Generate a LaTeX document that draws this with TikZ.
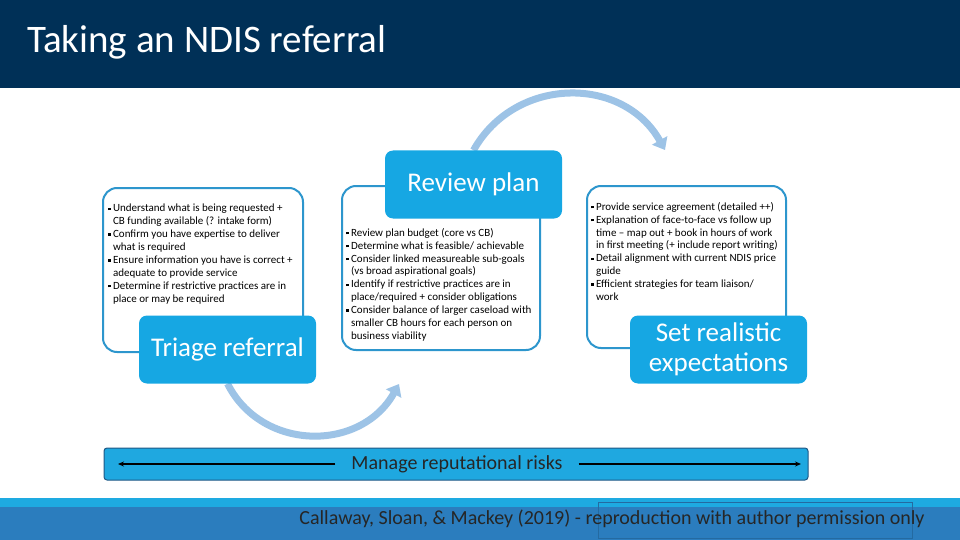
\documentclass[tikz,border=0pt]{standalone}
\usepackage{fontspec}
\setmainfont{Carlito}
\usetikzlibrary{arrows.meta,calc,backgrounds}
\definecolor{ndisnavy}{RGB}{0,48,87}
\definecolor{ndisblue}{RGB}{22,167,227}
\definecolor{ndisline}{RGB}{45,150,205}
\definecolor{ndisarc}{RGB}{157,195,230}
\definecolor{ndisfoot}{RGB}{43,125,190}
\definecolor{ndisstrip}{RGB}{30,170,225}
\definecolor{ndisrisk}{RGB}{31,168,224}
\newcommand{\bul}{\raisebox{0.35ex}{\rule{2.4pt}{2.4pt}}\hspace{2.5pt}}
\newcommand{\cnt}{\hspace*{4.9pt}}

\tikzset{
  notebox/.style={draw=ndisline, line width=2pt, fill=white, rounded corners=14pt},
  stagebox/.style={fill=ndisblue, rounded corners=8pt, text=white,
                   font=\fontsize{27}{30}\selectfont, align=center,
                   minimum width=177pt, minimum height=68pt},
  bullets/.style={anchor=north west, align=left, inner sep=0pt,
                  font=\fontsize{11}{12.9}\selectfont},
  cyclearc/.style={ndisarc, line width=7pt, -{Triangle[length=11pt,width=17pt]}},
  riskarrow/.style={-{Stealth[length=6pt,width=5pt]}, line width=1.3pt}
}

\begin{document}
\begin{tikzpicture}[x=1pt,y=-1pt]
  \useasboundingbox (0,0) rectangle (960,540);
  % title bar
  \fill[ndisnavy] (0,0) rectangle (960,88);
  \node[anchor=base west, text=white, inner sep=0pt,
        font=\fontsize{39}{44}\selectfont] (title) at (27,53) {Taking an NDIS referral};

  % text boxes
  \node[notebox, minimum width=200pt, minimum height=164pt] (lbox) at (203,270) {};
  \node[notebox, minimum width=198pt, minimum height=164pt] (mbox) at (441,268) {};
  \node[notebox, minimum width=199pt, minimum height=162pt] (rbox) at (686.5,267) {};

  % stages
  \node[stagebox] (review) at (473.5,184.5) {Review plan};
  \node[stagebox] (triage) at (227.5,349.5) {Triage referral};
  \node[stagebox] (expect) at (718.5,349.5) {Set realistic\\expectations};

  % cycle arrows
  \coordinate (topend) at (665,150);
  \coordinate (botend) at (399,384);
  \begin{scope}[on background layer]
    \draw[cyclearc] (review.north) .. controls (515,76) and (623,75) .. (topend);
    \draw[cyclearc] (triage.south) .. controls (262,452) and (361,452) .. (botend);
  \end{scope}

  \node[bullets] (ltext) at (108,204) {%
    \bul Understand what is being requested +\\
    \cnt CB funding available (? intake form)\\
    \bul Confirm you have expertise to deliver\\
    \cnt what is required\\
    \bul Ensure information you have is correct +\\
    \cnt adequate to provide service\\
    \bul Determine if restrictive practices are in\\
    \cnt place or may be required};
  \node[bullets] (mtext) at (346,228) {%
    \bul Review plan budget (core vs CB)\\
    \bul Determine what is feasible/ achievable\\
    \bul Consider linked measureable sub-goals\\
    \cnt (vs broad aspirational goals)\\
    \bul Identify if restrictive practices are in\\
    \cnt place/required + consider obligations\\
    \bul Consider balance of larger caseload with\\
    \cnt smaller CB hours for each person on\\
    \cnt business viability};
  \node[bullets] (rtext) at (591,202) {%
    \bul Provide service agreement (detailed ++)\\
    \bul Explanation of face-to-face vs follow up\\
    \cnt time -- map out + book in hours of work\\
    \cnt in first meeting (+ include report writing)\\
    \bul Detail alignment with current NDIS price\\
    \cnt guide\\
    \bul Efficient strategies for team liaison/\\
    \cnt work};

  % risk bar
  \node[fill=ndisrisk, draw=ndisfoot!70!black, line width=1pt, rounded corners=3pt,
        minimum width=704pt, minimum height=32pt] (riskbar) at (456,464) {};
  \node[inner xsep=16pt, font=\fontsize{20}{24}\selectfont, text=black!85] (risk) at (457,464)
    {Manage reputational risks};
  \coordinate (riskl) at (118,464);
  \coordinate (riskr) at (801,464);
  \draw[riskarrow] (risk.west) -- (riskl);
  \draw[riskarrow] (risk.east) -- (riskr);

  % footer
  \fill[ndisstrip] (0,498) rectangle (960,507);
  \fill[ndisfoot] (0,507) rectangle (960,540);
  \draw[ndisfoot!85!black, line width=0.7pt] (598,502) rectangle (912,538);
  \node[font=\fontsize{20}{24}\selectfont, text=black!85] (credit) at (612,519)
    {Callaway, Sloan, \& Mackey (2019) - reproduction with author permission only};
\end{tikzpicture}
\end{document}
